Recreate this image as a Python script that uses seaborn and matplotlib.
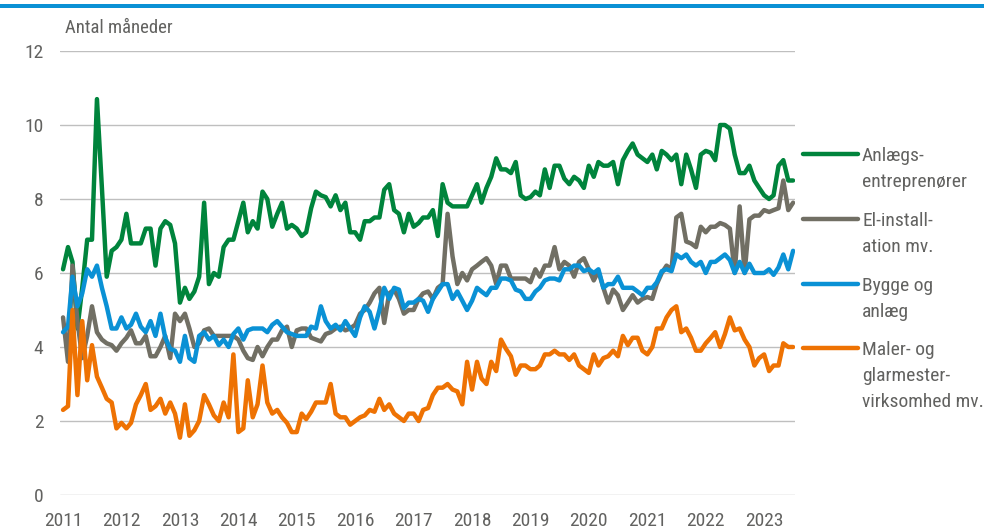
import pandas as pd
import numpy as np
import matplotlib.pyplot as plt
import seaborn as sns
from matplotlib import font_manager
from matplotlib.lines import Line2D
from matplotlib.patches import Rectangle

# ! Data -------------------------------------------------------------------

maaneder = pd.date_range("2011-01-01", periods=151, freq="MS")

anlaeg = [
    6.1, 6.7, 6.3, 4.5, 5.6, 6.9, 6.9, 10.7, 8.3, 5.9, 6.6, 6.7,
    6.9, 7.6, 6.8, 6.8, 6.8, 7.2, 7.2, 6.2, 7.2, 7.4, 7.3, 6.8,
    5.2, 5.6, 5.3, 5.5, 5.9, 7.9, 5.7, 6.0, 5.9, 6.7, 6.9, 6.9,
    7.4, 7.9, 7.1, 7.4, 7.2, 8.2, 8.0, 7.25, 7.6, 7.9, 7.2, 7.3,
    7.2, 7.0, 7.1, 7.75, 8.2, 8.1, 8.05, 7.8, 8.1, 7.7, 7.9, 7.1,
    7.1, 6.9, 7.4, 7.4, 7.5, 7.5, 8.25, 8.4, 7.7, 7.6, 7.1, 7.6,
    7.25, 7.35, 7.5, 7.5, 7.7, 7.0, 8.4, 7.9, 7.8, 7.8, 7.8, 7.8,
    8.1, 8.4, 7.9, 8.3, 8.6, 9.1, 8.8, 8.8, 8.7, 9.0, 8.1, 8.0,
    8.05, 8.2, 8.1, 8.8, 8.3, 8.9, 8.9, 8.55, 8.4, 8.6, 8.5, 8.3,
    8.9, 8.6, 9.0, 8.9, 8.9, 9.0, 8.4, 9.05, 9.3, 9.5, 9.2, 9.1,
    9.0, 9.2, 8.8, 9.3, 9.2, 9.05, 9.2, 8.4, 9.2, 8.8, 8.3, 9.2,
    9.3, 9.25, 9.05, 10.0, 10.0, 9.9, 9.2, 8.7, 8.7, 8.9, 8.5, 8.3,
    8.1, 8.0, 8.1, 8.9, 9.05, 8.5, 8.5,
]

el_install = [
    4.8, 3.6, 6.2, 4.7, 3.7, 4.3, 5.1, 4.4, 4.2, 4.1, 4.05, 3.9,
    4.1, 4.25, 4.45, 4.1, 4.1, 4.3, 3.75, 3.75, 4.0, 4.3, 3.7, 4.9,
    4.7, 4.9, 4.5, 4.0, 4.1, 4.45, 4.5, 4.3, 4.3, 4.3, 4.3, 4.3,
    4.2, 3.9, 3.7, 3.65, 4.0, 3.75, 4.0, 4.2, 4.2, 4.45, 4.55, 4.0,
    4.45, 4.5, 4.5, 4.25, 4.2, 4.15, 4.35, 4.4, 4.5, 4.55, 4.45, 4.5,
    4.6, 4.9, 5.0, 5.2, 5.45, 5.6, 4.65, 5.45, 5.55, 5.3, 4.9, 5.0,
    5.0, 5.3, 5.45, 5.5, 5.3, 5.6, 5.7, 7.6, 6.45, 5.7, 6.0, 5.8,
    6.1, 6.2, 6.3, 6.4, 6.2, 5.7, 6.2, 6.2, 5.85, 5.85, 5.85, 5.85,
    5.75, 6.1, 5.9, 6.2, 6.2, 6.7, 6.1, 6.3, 6.2, 5.9, 6.3, 6.4,
    6.1, 5.8, 6.05, 5.6, 5.2, 5.55, 5.4, 5.0, 5.2, 5.4, 5.2, 5.3,
    5.35, 5.3, 5.7, 6.0, 6.2, 6.1, 7.5, 7.6, 6.85, 6.8, 6.7, 7.25,
    7.1, 7.25, 7.25, 7.35, 7.3, 7.2, 6.0, 7.8, 6.0, 7.45, 7.55, 7.55,
    7.7, 7.65, 7.7, 7.75, 8.5, 7.7, 7.9,
]

bygge = [
    4.4, 4.55, 5.9, 5.1, 5.45, 6.1, 5.9, 6.2, 5.6, 5.1, 4.5, 4.5,
    4.8, 4.5, 4.6, 4.9, 4.55, 4.4, 4.7, 4.3, 4.9, 4.25, 3.95, 3.9,
    3.6, 4.3, 3.7, 3.6, 4.3, 4.4, 4.2, 4.3, 4.05, 4.2, 4.0, 4.35,
    4.5, 4.2, 4.45, 4.5, 4.5, 4.5, 4.4, 4.6, 4.7, 4.55, 4.4, 4.35,
    4.3, 4.3, 4.3, 4.55, 4.5, 5.1, 4.7, 4.5, 4.6, 4.45, 4.7, 4.5,
    4.3, 4.8, 5.1, 4.95, 4.5, 5.0, 5.6, 5.3, 5.6, 5.55, 5.05, 5.2,
    5.2, 5.3, 5.25, 4.95, 5.3, 5.5, 5.7, 5.7, 5.3, 5.5, 5.25, 5.0,
    5.25, 5.6, 5.5, 5.4, 5.6, 5.6, 5.85, 5.85, 5.8, 5.55, 5.5, 5.3,
    5.3, 5.5, 5.6, 5.8, 5.85, 5.85, 5.8, 6.1, 6.1, 6.2, 6.2, 6.05,
    6.1, 6.0, 6.1, 5.6, 5.7, 5.7, 5.9, 5.6, 5.6, 5.6, 5.5, 5.4,
    5.6, 5.6, 5.75, 6.05, 6.1, 6.05, 6.5, 6.4, 6.5, 6.3, 6.2, 6.3,
    6.0, 6.3, 6.3, 6.4, 6.5, 6.35, 6.0, 6.3, 6.0, 6.25, 6.0, 6.0,
    6.0, 6.1, 5.95, 6.15, 6.5, 6.1, 6.6,
]

maler = [
    2.3, 2.4, 5.0, 2.7, 4.7, 3.1, 4.05, 3.2, 2.9, 2.6, 2.5, 1.8,
    1.95, 1.8, 1.95, 2.45, 2.7, 3.0, 2.3, 2.4, 2.6, 2.2, 2.5, 2.2,
    1.55, 2.45, 1.6, 1.75, 2.0, 2.7, 2.45, 2.15, 2.0, 2.5, 2.1, 3.8,
    1.7, 1.8, 3.1, 2.1, 2.45, 3.5, 2.5, 2.2, 2.3, 2.1, 1.95, 1.7,
    1.7, 2.2, 2.05, 2.25, 2.5, 2.5, 2.5, 3.0, 2.2, 2.1, 2.1, 1.9,
    2.0, 2.1, 2.15, 2.3, 2.25, 2.6, 2.3, 2.45, 2.2, 2.1, 2.0, 2.2,
    2.2, 2.0, 2.3, 2.35, 2.7, 2.9, 2.9, 3.0, 2.85, 2.8, 2.45, 3.6,
    2.85, 3.6, 3.15, 3.0, 3.6, 3.35, 4.2, 3.95, 3.75, 3.25, 3.5, 3.5,
    3.4, 3.4, 3.5, 3.8, 3.8, 3.9, 3.8, 3.8, 3.65, 3.8, 3.5, 3.4,
    3.3, 3.8, 3.5, 3.7, 3.75, 3.9, 3.75, 4.3, 4.05, 4.25, 4.25, 3.9,
    3.8, 4.0, 4.5, 4.5, 4.8, 5.0, 5.1, 4.4, 4.5, 4.25, 3.9, 3.9,
    4.1, 4.25, 4.4, 4.0, 4.35, 4.8, 4.45, 4.5, 4.2, 4.0, 3.5, 3.7,
    3.8, 3.35, 3.5, 3.5, 4.1, 4.0, 4.0,
]

serier = [
    "Anlægs-\nentreprenører",
    "El-install-\nation mv.",
    "Bygge og\nanlæg",
    "Maler- og\nglarmester-\nvirksomhed mv.",
]
farver = ["#00843C", "#716F64", "#0A91D5", "#EE7203"]
aar = list(range(2011, 2024))

df = pd.DataFrame({"dato": maaneder, serier[0]: anlaeg, serier[1]: el_install,
                   serier[2]: bygge, serier[3]: maler})
df = df.melt(id_vars="dato", var_name="serie", value_name="antal")

# ! Figur ------------------------------------------------------------------

sns.set_theme(style="white")

# smal skrift hvis den findes, ellers Liberation Sans lidt mindre
try:
    font_manager.findfont(font_manager.FontProperties(family="Roboto Condensed"),
                          fallback_to_default=False)
    familie, fs_tick, fs_leg, fs_titel = "Roboto Condensed", 14, 14, 13.5
except ValueError:
    familie, fs_tick, fs_leg, fs_titel = "Liberation Sans", 12.5, 12, 12
plt.rcParams["font.family"] = [familie, "DejaVu Sans"]
tekstfarve = "#626260"

fig = plt.figure(figsize=(9.84, 5.29), dpi=100)
ax = fig.add_axes([60 / 984, 34 / 529, 735 / 984, 444 / 529])

sns.lineplot(data=df, x="dato", y="antal", hue="serie", hue_order=serier,
             palette=farver, linewidth=3.2, legend=False, ax=ax)

ax.set_xlim(pd.Timestamp("2010-12-13"), pd.Timestamp("2023-07-13"))
ax.set_ylim(0, 12)
ax.set_yticks(range(0, 13, 2))
ax.set_xticks([pd.Timestamp(f"{a}-01-01") for a in aar])
ax.set_xticklabels([str(a) for a in aar])
ax.set_xlabel("")
ax.set_ylabel("")
ax.yaxis.grid(True, color="#BFBFBF", linewidth=1.0)
ax.xaxis.grid(False)
ax.set_axisbelow(True)
for s in ax.spines.values():
    s.set_visible(False)
ax.tick_params(axis="both", length=0, labelsize=fs_tick, colors=tekstfarve)
ax.tick_params(axis="x", pad=12)
ax.tick_params(axis="y", pad=12)

ax.text(0.007, 1.052, "Antal måneder", transform=ax.transAxes, fontsize=fs_titel,
        color=tekstfarve, va="center", ha="left")

# ? Legende til højre (linje ud for første tekstlinje) ------------------
cap = 0.72 * fs_leg * 100 / 72
for navn, farve, ypix in zip(serier, farver, [154, 219, 284, 348]):
    yf = 1 - ypix / 529
    fig.add_artist(Line2D([803 / 984, 858 / 984], [yf, yf], color=farve, lw=3.2))
    for k, linje in enumerate(navn.split("\n")):
        fig.text(862 / 984, 1 - (ypix + cap / 2 + 26 * k) / 529, linje,
                 fontsize=fs_leg, color=tekstfarve, va="baseline", ha="left")

# ? Blå streg øverst ----------------------------------------------------
fig.add_artist(Rectangle((0, 1 - 8 / 529), 1, 4 / 529, transform=fig.transFigure,
                         color="#0A91D5", lw=0))

fig.savefig("out.png", dpi=100)
